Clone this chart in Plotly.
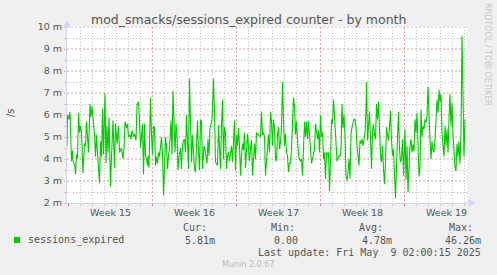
import datetime as dt
import plotly.graph_objects as go

# ---------------- data ----------------
# hours since 2025-04-06 22:00 (graph start), values in milli-sessions per second
START = dt.datetime(2025, 4, 6, 22, 0)
hours = [
    0, 1, 4, 6, 8, 9, 11, 12, 14, 16,
    17, 19, 21, 23, 25, 27, 29, 32, 35, 37,
    39, 42, 43, 46, 48, 50, 53, 55, 57, 59,
    61, 65, 67, 69, 71, 73, 76, 78, 80, 82,
    84, 87, 89, 92, 95, 97, 100, 103, 105, 109,
    112, 114, 116, 119, 121, 123, 126, 128, 130, 133,
    135, 138, 140, 143, 145, 147, 149, 151, 153, 155,
    157, 159, 161, 162, 164, 167, 169, 171, 173, 175,
    177, 179, 181, 183, 185, 187, 189, 191, 193, 195,
    197, 199, 201, 203, 205, 208, 210, 212, 214, 216,
    218, 220, 222, 224, 227, 229, 231, 233, 235, 237,
    239, 241, 243, 245, 247, 249, 251, 253, 255, 257,
    259, 261, 263, 265, 267, 269, 271, 274, 276, 278,
    280, 282, 284, 286, 288, 290, 292, 293, 295, 297,
    299, 301, 303, 305, 307, 309, 311, 313, 315, 317,
    319, 321, 323, 325, 327, 329, 331, 333, 335, 337,
    339, 341, 343, 345, 347, 349, 351, 353, 355, 357,
    359, 361, 363, 365, 367, 369, 371, 373, 375, 377,
    379, 381, 383, 385, 387, 389, 391, 393, 395, 397,
    399, 401, 403, 405, 407, 409, 411, 413, 415, 417,
    419, 421, 423, 425, 427, 429, 431, 433, 435, 437,
    439, 441, 443, 445, 447, 449, 451, 453, 455, 457,
    459, 461, 463, 465, 467, 469, 471, 473, 475, 477,
    479, 481, 483, 485, 487, 489, 491, 493, 495, 497,
    499, 501, 503, 505, 507, 509, 511, 513, 515, 517,
    519, 521, 523, 525, 527, 529, 531, 533, 535, 537,
    539, 540, 542, 544, 546, 548, 550, 552, 554, 556,
    558, 560, 562, 564, 566, 568, 570, 572, 574, 576,
    578, 580, 582, 584, 586, 588, 590, 592, 594, 596,
    598, 599, 601, 603, 605, 607, 609, 611, 613, 615,
    617, 619, 621, 623, 625, 627, 629, 631, 633, 635,
    637, 639, 641, 643, 645, 647, 649, 651, 653, 655,
    657, 659, 661, 663, 665, 667, 669, 671, 673, 676,
    678, 680, 682, 684, 686, 688, 690, 692, 694, 696,
    698, 700, 702, 704, 706, 708, 710, 712, 714, 716,
    718, 720, 722, 724, 726, 728, 730, 732, 734, 736,
    738, 740, 742, 744, 746, 748, 750, 752, 754, 756,
    758, 760, 762, 764, 766, 768, 770, 772, 774, 776,
    778, 780, 782, 784, 786, 788, 790, 792, 794, 796,
]
sessions_expired_m = [
    4.6, 6.0, 5.8, 6.15, 4.6, 3.9, 4.4, 3.9, 3.8, 3.65,
    3.3, 4.2, 4.0, 6.1, 5.2, 5.5, 5.2, 3.35, 4.7, 4.6,
    5.7, 4.7, 4.3, 6.5, 5.9, 6.4, 5.8, 5.1, 4.1, 5.1,
    4.3, 2.9, 4.8, 4.1, 6.3, 4.2, 7.0, 3.8, 5.5, 4.3,
    5.9, 2.75, 4.1, 5.75, 3.6, 5.6, 4.7, 5.5, 4.3, 4.5,
    4.0, 4.5, 5.7, 5.4, 5.6, 5.0, 5.1, 4.9, 5.3, 5.0,
    5.15, 4.85, 6.45, 6.6, 5.8, 4.5, 5.0, 5.6, 3.3, 5.6,
    4.15, 4.0, 3.7, 4.15, 3.6, 6.8, 5.1, 4.2, 5.5, 5.45,
    3.7, 4.1, 3.8, 4.3, 4.1, 4.7, 5.0, 4.2, 2.35, 3.55,
    5.0, 4.6, 3.55, 4.15, 4.5, 5.75, 4.2, 7.1, 5.1, 4.3,
    5.6, 5.15, 3.5, 4.1, 4.5, 3.55, 4.6, 4.85, 4.9, 4.3,
    6.0, 5.0, 3.55, 7.65, 4.75, 3.85, 5.1, 4.3, 3.55, 3.4,
    4.3, 5.75, 4.3, 3.5, 5.8, 5.7, 3.55, 4.6, 4.4, 4.0,
    3.8, 4.9, 4.15, 5.4, 5.6, 5.8, 6.9, 7.65, 6.15, 3.85,
    3.8, 3.7, 5.55, 4.75, 3.55, 5.55, 6.7, 4.0, 5.45, 5.2,
    3.55, 4.15, 4.3, 3.9, 4.2, 4.6, 3.85, 5.15, 5.75, 3.5,
    5.1, 4.6, 5.4, 4.6, 3.25, 4.15, 4.7, 4.4, 5.2, 3.6,
    4.75, 5.15, 4.5, 3.9, 4.5, 4.85, 3.25, 4.2, 4.7, 4.0,
    5.2, 5.15, 5.1, 5.1, 5.0, 6.15, 5.1, 5.2, 5.0, 3.25,
    4.0, 4.75, 5.1, 4.3, 6.15, 5.7, 4.6, 5.8, 5.4, 4.0,
    3.9, 5.1, 5.45, 4.45, 4.75, 5.4, 7.5, 5.8, 4.6, 5.15,
    4.3, 4.15, 3.4, 3.8, 3.8, 4.45, 6.05, 6.8, 6.35, 5.1,
    5.7, 4.9, 4.15, 4.0, 3.9, 4.0, 3.25, 4.45, 5.7, 5.0,
    5.7, 4.9, 5.7, 5.1, 4.15, 3.8, 4.0, 4.3, 4.45, 5.6,
    5.2, 4.9, 5.3, 4.3, 6.0, 5.0, 5.2, 4.0, 4.3, 3.1,
    4.3, 4.2, 4.3, 2.55, 3.85, 5.8, 5.6, 6.7, 6.0, 5.2,
    4.0, 3.9, 4.0, 4.15, 4.1, 4.45, 6.5, 5.4, 6.0, 5.1,
    3.25, 3.0, 3.4, 4.0, 3.1, 5.15, 5.45, 5.7, 5.8, 5.8,
    5.45, 4.6, 4.0, 3.7, 4.85, 4.7, 4.9, 4.6, 4.9, 5.2,
    6.3, 7.5, 4.85, 5.8, 6.15, 4.9, 3.55, 5.2, 5.6, 5.1,
    4.9, 6.5, 5.8, 6.6, 5.2, 4.2, 3.85, 4.6, 3.55, 2.85,
    3.85, 5.45, 5.1, 4.85, 5.45, 6.2, 4.85, 4.15, 4.45, 3.4,
    2.2, 3.7, 5.45, 6.15, 4.45, 3.85, 4.0, 4.9, 3.25, 5.35,
    3.05, 4.6, 2.5, 3.65, 4.6, 4.9, 4.3, 4.65, 4.35, 5.8,
    5.2, 6.1, 4.6, 3.2, 3.65, 6.25, 5.0, 5.5, 5.35, 5.8,
    5.65, 5.95, 7.3, 5.8, 4.9, 4.0, 4.8, 4.4, 4.3, 4.9,
    5.95, 6.7, 6.1, 7.15, 6.6, 6.95, 5.2, 4.4, 4.1, 5.5,
    4.6, 5.35, 4.3, 5.8, 6.95, 5.5, 6.55, 5.1, 4.3, 3.65,
    3.45, 4.7, 4.1, 4.8, 3.8, 5.2, 9.6, 6.1, 4.1, 5.81,
]
series_name = "sessions_expired"
stat_labels = ["Cur:", "Min:", "Avg:", "Max:"]
stat_values = ["5.81m", "0.00", "4.78m", "46.26m"]
y_ticks = [2, 3, 4, 5, 6, 7, 8, 9, 10]
y_tick_labels = [f"{v} m" for v in y_ticks]
title_text = "mod_smacks/sessions_expired counter - by month"
last_update = "Last update: Fri May  9 02:00:15 2025"
TOTAL_HOURS = 800

# ---------------- derived axis positions ----------------
first_monday = dt.datetime(2025, 4, 7)
off0 = (first_monday - START).total_seconds() / 3600.0
week_starts = [off0 + 168 * k for k in range(5)]
week_mids = [w + 84 for w in week_starts]
week_labels = [f"Week {(first_monday + dt.timedelta(days=7 * k)).isocalendar()[1]}" for k in range(5)]
day_lines = [off0 + 24 * k for k in range(-1, 34) if 0 <= off0 + 24 * k <= TOTAL_HOURS and k % 7 != 0]
half_lines = [v + 0.5 for v in y_ticks[:-1]]

# ---------------- layout geometry ----------------
W, H = 497, 275
L, R, T, B = 67, 30, 27, 72
PW, PH = W - L - R, H - T - B


def px(x):
    return (x - L) / PW


def py(y):
    return (H - B - y) / PH


FONT = "DejaVu Sans"
MONO = "DejaVu Sans Mono"
TXT = "#555555"
AXIS = "#CFD6F8"
MGRID = "rgba(228,95,95,0.6)"
GRID = "rgba(165,165,165,0.7)"
MDASH = "2px,2px"
DASH = "1px,2px"

fig = go.Figure()
fig.add_trace(go.Scatter(x=hours, y=sessions_expired_m, mode="lines",
                         line=dict(color="#00CC00", width=1.1), showlegend=False,
                         hoverinfo="skip"))

fig.update_layout(
    width=W, height=H, margin=dict(l=L, r=R, t=T, b=B),
    paper_bgcolor="#F0F0F0", plot_bgcolor="#FFFFFF",
    font=dict(family=FONT, size=9.5, color=TXT),
    xaxis=dict(range=[0, TOTAL_HOURS], tickmode="array", tickvals=week_starts,
               showticklabels=False, ticks="outside", ticklen=2, tickcolor="#E06060",
               showgrid=True, gridcolor=MGRID, griddash=MDASH, gridwidth=1,
               minor=dict(tickmode="array", tickvals=day_lines, showgrid=True,
                          gridcolor=GRID, griddash=DASH, gridwidth=1,
                          ticks="outside", ticklen=2, tickcolor="#C8C8C8"),
               showline=True, linecolor=AXIS, linewidth=1, zeroline=False,
               fixedrange=True),
    yaxis=dict(range=[2, 10], tickmode="array", tickvals=y_ticks, ticktext=y_tick_labels,
               ticks="outside", ticklen=2, tickcolor="#C8C8C8",
               showgrid=False,
               minor=dict(tickmode="array", tickvals=half_lines, showgrid=True, gridcolor=GRID,
                          griddash=DASH, gridwidth=1, ticks="outside", ticklen=2,
                          tickcolor="#C8C8C8"),
               showline=True, linecolor=AXIS, linewidth=1, zeroline=False,
               tickfont=dict(family=FONT, size=9.5, color=TXT)),
)

# major horizontal grid lines (red dotted) at each labelled y tick, under the data
for v in y_ticks[1:]:
    fig.add_shape(type="line", xref="paper", yref="y", x0=0, x1=1, y0=v, y1=v,
                  layer="below", line=dict(color=MGRID, width=1, dash=MDASH))

# axis arrows
fig.add_shape(type="path", xref="paper", yref="paper", xsizemode="pixel", ysizemode="pixel",
              xanchor=0, yanchor=1, path="M -3,0 L 3,0 L 0,6 Z",
              fillcolor=AXIS, line=dict(color=AXIS, width=1))
fig.add_shape(type="path", xref="paper", yref="paper", xsizemode="pixel", ysizemode="pixel",
              xanchor=1, yanchor=0, path="M 2,-3 L 2,3 L 8,0 Z",
              fillcolor=AXIS, line=dict(color=AXIS, width=1))
fig.add_shape(type="path", xref="paper", yref="paper", xsizemode="pixel", ysizemode="pixel",
              xanchor=1, yanchor=0, path="M 0,0 L 3,0",
              line=dict(color=AXIS, width=1))

ann = []
# week labels centred in each week, placed on the x axis scale
for wm, wl in zip(week_mids, week_labels):
    ann.append(dict(text=wl, x=wm, xref="x", y=py(212.5), yref="paper", xanchor="center",
                    yanchor="middle", showarrow=False,
                    font=dict(family=FONT, size=9.5, color=TXT)))
paper_ann = []
paper_ann.append(dict(text=title_text, x=px(248), y=py(19), xanchor="center", yanchor="middle",
                      font=dict(family=FONT, size=12.5, color=TXT)))
paper_ann.append(dict(text="/s", x=px(10), y=py(113), xanchor="center", yanchor="middle",
                      textangle=-90, font=dict(family=FONT, size=10, color=TXT)))
paper_ann.append(dict(text="RRDTOOL / TOBI OETIKER", x=px(488), y=py(54), xanchor="center",
                      yanchor="middle", textangle=90,
                      font=dict(family=FONT, size=8, color="#C8C8C8")))

# legend block
stat_label_x = [181, 269, 357, 447]
stat_value_x = [217, 300, 394, 483]
for lab, lx in zip(stat_labels, stat_label_x):
    paper_ann.append(dict(text=lab, x=px(lx), y=py(227.5), xanchor="left", yanchor="middle",
                          font=dict(family=MONO, size=10, color=TXT)))
for val, vx in zip(stat_values, stat_value_x):
    paper_ann.append(dict(text=val, x=px(vx), y=py(240), xanchor="right", yanchor="middle",
                          font=dict(family=MONO, size=10, color=TXT)))
paper_ann.append(dict(text=series_name, x=px(26), y=py(240), xanchor="left", yanchor="middle",
                      font=dict(family=MONO, size=10, color=TXT)))
paper_ann.append(dict(text=last_update.replace("  ", "&nbsp; "), x=px(483), y=py(252),
                      xanchor="right", yanchor="middle",
                      font=dict(family=MONO, size=10, color=TXT)))
paper_ann.append(dict(text="Munin 2.0.67", x=px(247.5), y=py(264), xanchor="center",
                      yanchor="middle", font=dict(family=FONT, size=8, color="#BBBBBB")))
for a in paper_ann:
    a.update(xref="paper", yref="paper", showarrow=False)
fig.update_layout(annotations=ann + paper_ann)

fig.add_shape(type="rect", xref="paper", yref="paper", x0=px(14), x1=px(20), y0=py(243), y1=py(237),
              fillcolor="#00CC00", line=dict(width=0))

fig.write_html("out.html")
